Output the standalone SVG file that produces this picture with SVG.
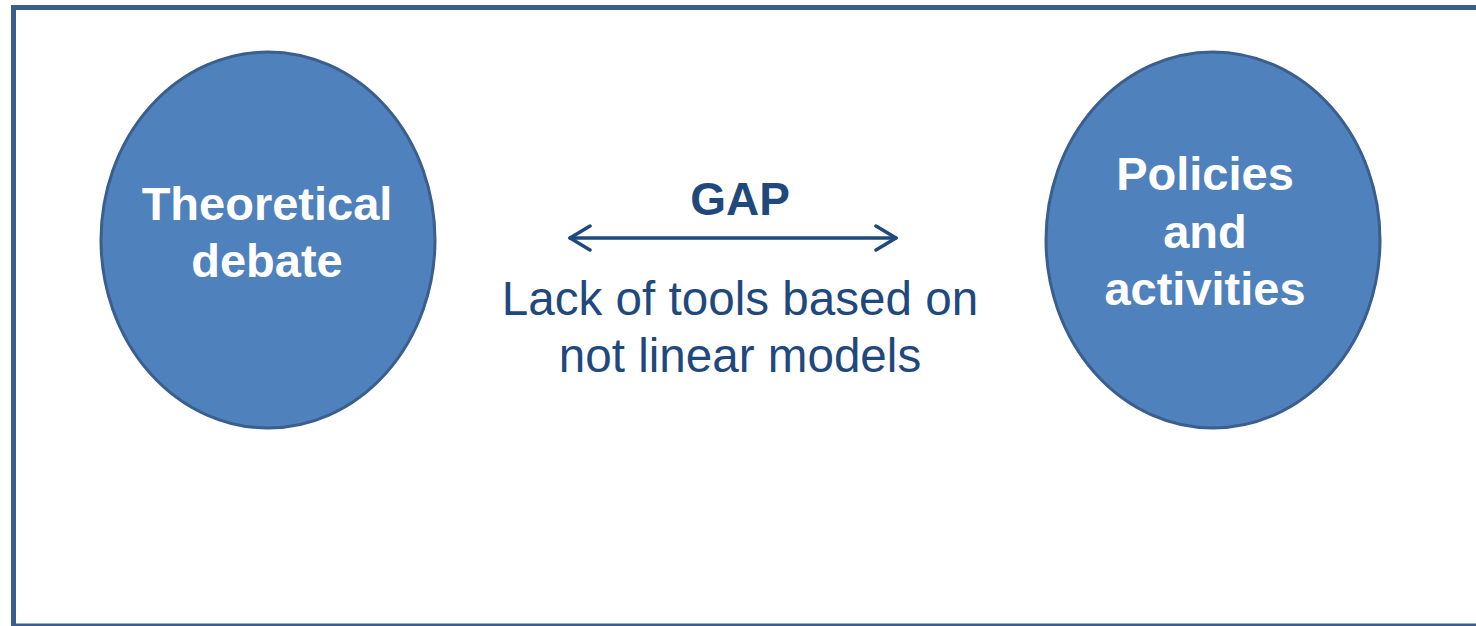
<svg xmlns="http://www.w3.org/2000/svg" width="1476" height="626" viewBox="0 0 1476 626">
  <style>
    .frame { fill: #ffffff; stroke: #3a5f8e; stroke-width: 5; }
    .node { fill: #4f81bd; stroke: #3a5f8e; stroke-width: 3; }
    .label { font-family: "Liberation Sans", Arial, sans-serif; font-weight: bold; font-size: 47px; fill: #ffffff; text-anchor: middle; }
    .gap { font-family: "Liberation Sans", Arial, sans-serif; font-weight: bold; font-size: 46px; fill: #1f497d; text-anchor: middle; }
    .note { font-family: "Liberation Sans", Arial, sans-serif; font-size: 47.6px; fill: #1f497d; text-anchor: middle; }
    .link { stroke: #1f497d; stroke-width: 3.5; fill: none; stroke-linecap: round; stroke-linejoin: round; }
  </style>
  <defs>
    <marker id="chevron" viewBox="0 0 24 28" refX="22" refY="14" markerWidth="24" markerHeight="28" markerUnits="userSpaceOnUse" orient="auto-start-reverse">
      <path d="M2,2 L22,14 L2,26" fill="none" stroke="#1f497d" stroke-width="3.5" stroke-linecap="round" stroke-linejoin="round"/>
    </marker>
  </defs>

  <rect width="1476" height="626" fill="#ffffff"/>
  <rect class="frame" x="13.5" y="7.5" width="1480" height="618.5"/>

  <g id="theoretical-debate">
    <ellipse class="node" cx="268" cy="240" rx="167" ry="188"/>
    <text class="label" x="267" y="220">Theoretical</text>
    <text class="label" x="267" y="277">debate</text>
  </g>

  <g id="policies-activities">
    <ellipse class="node" cx="1213" cy="240" rx="167" ry="188"/>
    <text class="label" x="1205" y="190">Policies</text>
    <text class="label" x="1205" y="248">and</text>
    <text class="label" x="1205" y="305">activities</text>
  </g>

  <g id="connectors">
    <line class="link" x1="570" y1="238" x2="896" y2="238" marker-start="url(#chevron)" marker-end="url(#chevron)"/>
  </g>

  <g id="gap-label">
    <text class="gap" x="740" y="215">GAP</text>
    <text class="note" x="740" y="315">Lack of tools based on</text>
    <text class="note" x="740" y="372">not linear models</text>
  </g>
</svg>
